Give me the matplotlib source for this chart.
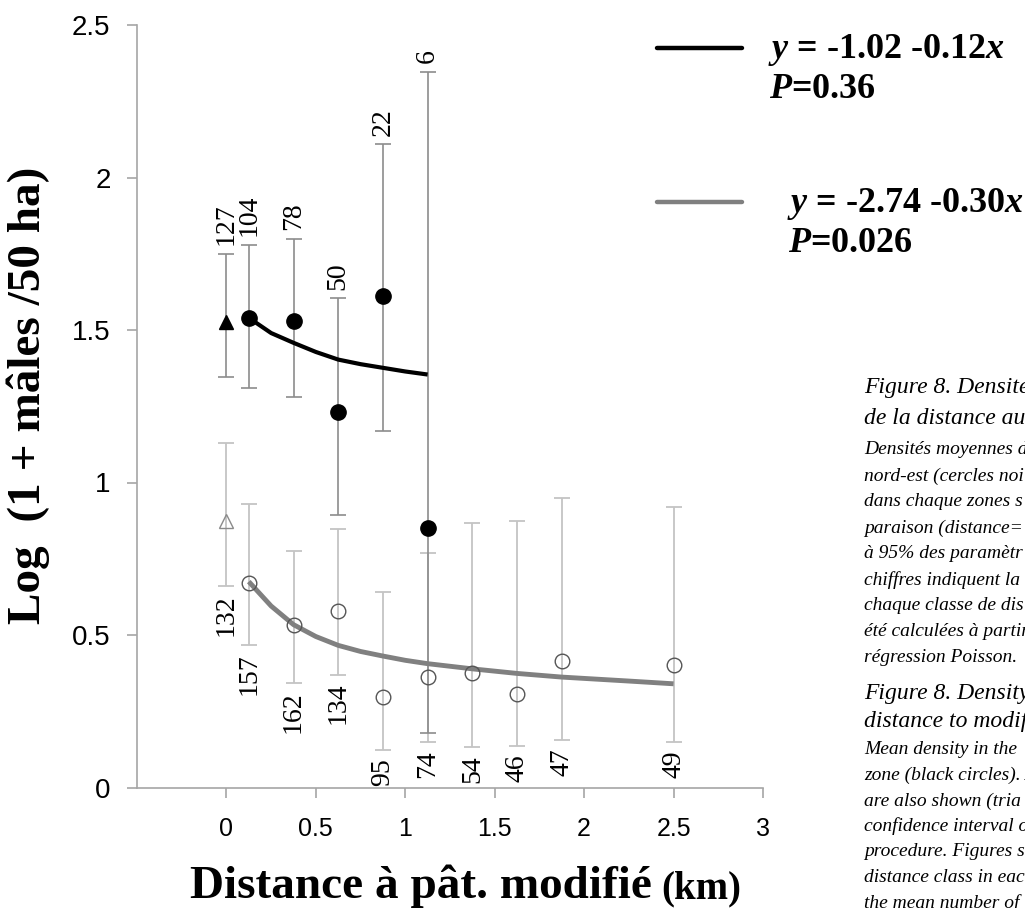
import matplotlib.pyplot as plt
from matplotlib.lines import Line2D
import numpy as np

# mean density (log 1 + males / 50 ha) per distance class, with 95% CI
black_x = [0.125, 0.375, 0.625, 0.875, 1.125]
black_y = [1.54, 1.53, 1.23, 1.61, 0.85]
black_lo = [1.31, 1.28, 0.895, 1.17, 0.178]
black_hi = [1.78, 1.80, 1.605, 2.11, 2.347]
black_n = [104, 78, 50, 22, 6]

grey_x = [0.125, 0.375, 0.625, 0.875, 1.125, 1.375, 1.625, 1.875, 2.5]
grey_y = [0.671, 0.534, 0.578, 0.296, 0.362, 0.376, 0.305, 0.414, 0.401]
grey_lo = [0.466, 0.343, 0.370, 0.123, 0.150, 0.134, 0.135, 0.156, 0.150]
grey_hi = [0.928, 0.775, 0.848, 0.640, 0.769, 0.868, 0.874, 0.949, 0.921]
grey_n = [157, 162, 134, 95, 74, 54, 46, 47, 49]

# comparison zones (distance = 0)
ref_x = [0.0]
ref_black_y, ref_black_lo, ref_black_hi, ref_black_n = [1.525], [1.345], [1.75], [127]
ref_grey_y, ref_grey_lo, ref_grey_hi, ref_grey_n = [0.873], [0.662], [1.13], [132]

# fitted Poisson regression curves
fit_black_x = [0.125, 0.25, 0.375, 0.5, 0.625, 0.75, 0.875, 1.0, 1.125]
fit_black_y = [1.54, 1.49, 1.458, 1.428, 1.403, 1.388, 1.376, 1.364, 1.354]
fit_grey_x = [0.125, 0.25, 0.375, 0.5, 0.625, 0.75, 0.875, 1.0, 1.125,
              1.375, 1.625, 1.875, 2.25, 2.5]
fit_grey_y = [0.675, 0.595, 0.534, 0.495, 0.466, 0.446, 0.431, 0.417, 0.406,
              0.389, 0.374, 0.362, 0.349, 0.340]

xticks = [0, 0.5, 1, 1.5, 2, 2.5, 3]
xtick_labels = ['0', '0.5', '1', '1.5', '2', '2.5', '3']
yticks = [0, 0.5, 1, 1.5, 2, 2.5]
ytick_labels = ['0', '0.5', '1', '1.5', '2', '2.5']

eq_black = ['$y$ = -1.02 -0.12$x$', '$P$=0.36']
eq_grey = ['$y$ = -2.74 -0.30$x$', '$P$=0.026']

caption_fr_head = ['Figure 8. Densité', 'de la distance aux']
caption_fr_body = ['Densités moyennes d', 'nord-est (cercles noi', 'dans chaque zones s',
                   'paraison (distance=', 'à 95% des paramètr', 'chiffres indiquent la',
                   'chaque classe de dis', 'été calculées à partir', 'régression Poisson.']
caption_en_head = ['Figure 8. Density', 'distance to modifi']
caption_en_body = ['Mean density in the', 'zone (black circles). A', 'are also shown (tria',
                   'confidence interval o', 'procedure. Figures s', 'distance class in eac',
                   'the mean number of']

plt.rcParams['mathtext.fontset'] = 'custom'
plt.rcParams['mathtext.rm'] = 'Liberation Serif:bold'
plt.rcParams['mathtext.bf'] = 'Liberation Serif:bold'
plt.rcParams['mathtext.it'] = 'Liberation Serif:italic:bold'

W, H = 1025, 908
fig = plt.figure(figsize=(W / 100, H / 100), dpi=100)


def fx(px):
    return px / W


def fy(py):
    return 1 - py / H


ax = fig.add_axes([fx(137), fy(787.5), fx(763 - 137), (787.5 - 25) / H])
ax.set_xlim(-0.5, 3)
ax.set_ylim(0, 2.5)
for s in ['top', 'right']:
    ax.spines[s].set_visible(False)
for s in ['left', 'bottom']:
    ax.spines[s].set_color('#a6a6a6')
    ax.spines[s].set_linewidth(1.2)
ax.set_xticks(xticks)
ax.set_xticklabels(xtick_labels, family='Liberation Sans', fontsize=18)
ax.set_yticks(yticks)
ax.set_yticklabels(ytick_labels, family='Liberation Sans', fontsize=20)
ax.tick_params(axis='both', direction='out', length=7, color='#a6a6a6', width=1.2)
ax.tick_params(axis='x', pad=14)
ax.tick_params(axis='y', pad=12)


def err(y, lo, hi):
    y, lo, hi = np.array(y), np.array(lo), np.array(hi)
    return [y - lo, hi - y]


# error bars
ax.errorbar(grey_x, grey_y, yerr=err(grey_y, grey_lo, grey_hi), fmt='none',
            ecolor='#c4c4c4', elinewidth=1.3, capsize=6, capthick=1.3, zorder=1)
ax.errorbar(ref_x, ref_grey_y, yerr=err(ref_grey_y, ref_grey_lo, ref_grey_hi), fmt='none',
            ecolor='#c4c4c4', elinewidth=1.3, capsize=6, capthick=1.3, zorder=1)
ax.errorbar(black_x, black_y, yerr=err(black_y, black_lo, black_hi), fmt='none',
            ecolor='#8c8c8c', elinewidth=1.2, capsize=6, capthick=1.2, zorder=2)
ax.errorbar(ref_x, ref_black_y, yerr=err(ref_black_y, ref_black_lo, ref_black_hi), fmt='none',
            ecolor='#8c8c8c', elinewidth=1.2, capsize=6, capthick=1.2, zorder=2)

# fitted curves
ax.plot(fit_grey_x, fit_grey_y, color='#808080', lw=3.5, zorder=3, solid_capstyle='butt')
ax.plot(fit_black_x, fit_black_y, color='black', lw=3.0, zorder=3, solid_capstyle='butt')

# points
ax.plot(grey_x, grey_y, 'o', ms=10.5, mfc='none', mec='#555555', mew=1.0, zorder=4)
ax.plot(ref_x, ref_grey_y, '^', ms=10.5, mfc='none', mec='#8a8a8a', mew=1.0, zorder=4)
ax.plot(black_x, black_y, 'o', ms=11, color='black', zorder=5)
ax.plot(ref_x, ref_black_y, '^', ms=10.5, color='black', zorder=5)

# sample sizes
for x, hi, n in zip(ref_x + black_x, ref_black_hi + black_hi, ref_black_n + black_n):
    ax.annotate(str(n), (x, hi), xytext=(0, 6), textcoords='offset points',
                rotation=90, ha='center', va='bottom', fontsize=20,
                family='Liberation Serif', annotation_clip=False)
for x, lo, n in zip(ref_x + grey_x, ref_grey_lo + grey_lo, ref_grey_n + grey_n):
    ax.annotate(str(n), (x, lo), xytext=(0, -6), textcoords='offset points',
                rotation=90, ha='center', va='top', fontsize=20,
                family='Liberation Serif', annotation_clip=False)

# axis titles
fig.text(fx(28), fy(395), 'Log  (1 + mâles /50 ha)', rotation=90, ha='center', va='center',
         family='Liberation Serif', weight='bold', fontsize=34)
r = fig.canvas.get_renderer()
t1 = fig.text(fx(190), fy(898), 'Distance à pât. modifié', ha='left', va='baseline',
              family='Liberation Serif', weight='bold', fontsize=34)
bb = t1.get_window_extent(renderer=r).transformed(fig.transFigure.inverted())
fig.text(bb.x1 + fx(9), fy(898), '(km)', ha='left', va='baseline',
         family='Liberation Serif', weight='bold', fontsize=28)

# regression equations
for (py, color), lines, x0 in [((48, 'black'), eq_black, 768), ((202, '#808080'), eq_grey, 787)]:
    fig.add_artist(Line2D([fx(657), fx(742)], [fy(py), fy(py)], transform=fig.transFigure,
                          color=color, lw=3.2, solid_capstyle='round'))
    fig.text(fx(x0), fy(py + 2), lines[0], ha='left', va='center', fontsize=26,
             family='Liberation Serif', weight='bold')
    fig.text(fx(x0 + 1), fy(py + 41), lines[1], ha='left', va='center', fontsize=26,
             family='Liberation Serif', weight='bold')

# figure caption
cap_x = fx(864)
y = 388
for line in caption_fr_head:
    fig.text(cap_x, fy(y), line, ha='left', va='center', family='Liberation Serif',
             style='italic', fontsize=17)
    y += 31
y = 450
for line in caption_fr_body:
    fig.text(cap_x, fy(y), line, ha='left', va='center', family='Liberation Serif',
             style='italic', fontsize=14)
    y += 26
y = 693
for line in caption_en_head:
    fig.text(cap_x, fy(y), line, ha='left', va='center', family='Liberation Serif',
             style='italic', fontsize=17)
    y += 28
y = 750
for line in caption_en_body:
    fig.text(cap_x, fy(y), line, ha='left', va='center', family='Liberation Serif',
             style='italic', fontsize=14)
    y += 25.5

fig.savefig('out.png', dpi=100)
